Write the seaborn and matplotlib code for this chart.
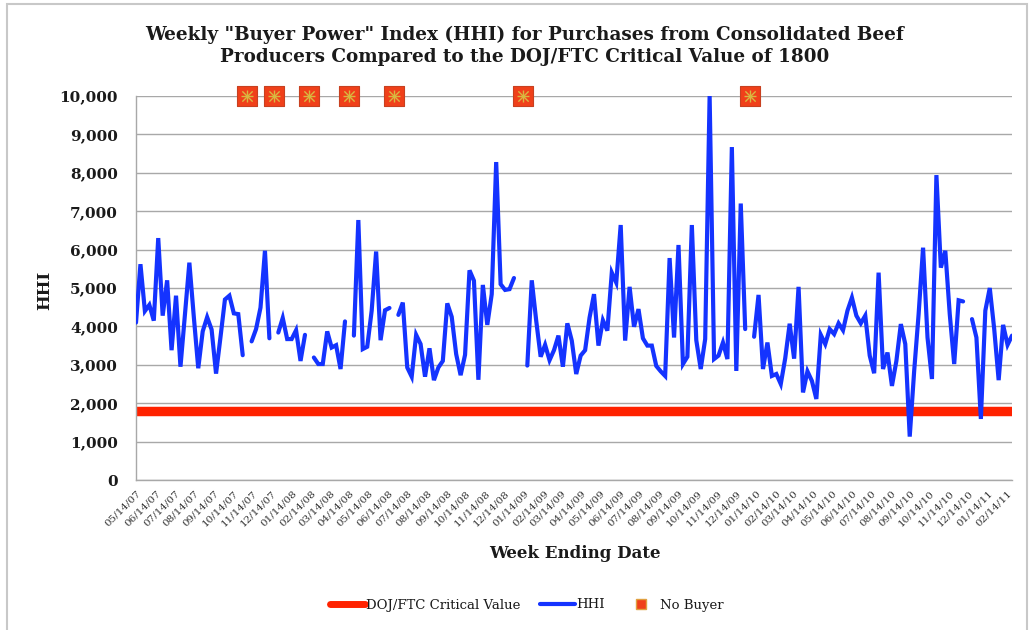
import numpy as np
import pandas as pd
import matplotlib
matplotlib.use("Agg")
import matplotlib.pyplot as plt
import matplotlib.dates as mdates
from matplotlib.lines import Line2D
from matplotlib.patches import Rectangle
import seaborn as sns

# ---------------- data ----------------
start_date = "2007-05-14"
nan = np.nan
hhi_values = [
    4100, 5620, 4400, 4560, 4150, 6300, 4280, 5200, 3380, 4800,
    2950, 4300, 5660, 4250, 2910, 3870, 4240, 3920, 2770, 3720,
    4700, 4800, 4340, 4320, 3250, nan, 3610, 3930, 4490, 5970,
    3690, nan, 3840, 4220, 3670, 3670, 3900, 3100, 3780, nan,
    3190, 3020, 3020, 3870, 3450, 3510, 2890, 4130, nan, 3760,
    6770, 3410, 3470, 4410, 5950, 3640, 4420, 4480, nan, 4300,
    4620, 2930, 2690, 3780, 3540, 2690, 3430, 2600, 2930, 3100,
    4600, 4250, 3280, 2730, 3260, 5460, 5190, 2610, 5080, 4040,
    4840, 8280, 5100, 4950, 4970, 5260, nan, nan, 2980, 5200,
    4150, 3210, 3520, 3120, 3380, 3760, 2950, 4080, 3630, 2760,
    3240, 3380, 4230, 4840, 3500, 4160, 3890, 5400, 5140, 6640,
    3630, 5030, 3990, 4450, 3690, 3500, 3500, 2970, 2830, 2710,
    5780, 3710, 6120, 3020, 3210, 6640, 3640, 2890, 3670, 10000,
    3150, 3240, 3580, 3150, 8670, 2840, 7200, 3930, nan, 3730,
    4820, 2890, 3580, 2710, 2760, 2500, 3170, 4070, 3160, 5030,
    2280, 2830, 2580, 2110, 3780, 3540, 3930, 3800, 4080, 3900,
    4410, 4750, 4280, 4080, 4280, 3240, 2780, 5400, 2890, 3320,
    2450, 3100, 4060, 3540, 1130, 2840, 4320, 6050, 3710, 2630,
    7940, 5530, 5970, 4320, 3020, 4680, 4650, nan, 4190, 3710,
    1590, 4410, 5000, 3930, 2600, 4040, 3520, 3760,
]
no_buyer_weeks = [25, 31, 39, 48, 58, 87, 138]
no_buyer_level = 10000
critical_value = 1800

title_text = ('Weekly "Buyer Power" Index (HHI) for Purchases from Consolidated Beef\n'
              'Producers Compared to the DOJ/FTC Critical Value of 1800')
x_label = "Week Ending Date"
y_label = "HHI"
legend_labels = ["DOJ/FTC Critical Value", "HHI", "No Buyer"]

# ---------------- frames ----------------
dates = pd.date_range(start_date, periods=len(hhi_values), freq="7D")
df = pd.DataFrame({"date": dates, "hhi": hhi_values})
df["seg"] = df["hhi"].isna().cumsum()
df_line = df.dropna()

crit_df = pd.DataFrame({"date": [dates[0], dates[-1]],
                        "value": [critical_value, critical_value]})
nb_df = pd.DataFrame({"date": dates[no_buyer_weeks],
                      "value": [no_buyer_level] * len(no_buyer_weeks)})

# ---------------- style ----------------
sns.set_theme(style="white")
plt.rcParams["font.family"] = ["DejaVu Serif", "DejaVu Sans"]
text_color = "#1a1a1a"
grid_color = "#a8a8a8"
red = "#ff2200"
blue = "#1433ff"

fig = plt.figure(figsize=(10.33, 6.30), dpi=100)
ax = fig.add_axes([136 / 1033, 150 / 630, 876 / 1033, 384 / 630])

# critical value line
sns.lineplot(data=crit_df, x="date", y="value", ax=ax, color=red,
             linewidth=6.8, solid_capstyle="butt", zorder=2)
# HHI line with gaps
sns.lineplot(data=df_line, x="date", y="hhi", units="seg", estimator=None,
             ax=ax, color=blue, linewidth=3.0, zorder=3,
             solid_joinstyle="miter")
# no buyer markers
sns.scatterplot(data=nb_df, x="date", y="value", ax=ax, marker="s", s=190,
                color="#f0401a", edgecolor="#c84020", linewidth=0.8,
                zorder=5, clip_on=False)
sns.scatterplot(data=nb_df, x="date", y="value", ax=ax, marker="x", s=55,
                color="#d8b840", linewidth=1.0, zorder=6, clip_on=False)
sns.scatterplot(data=nb_df, x="date", y="value", ax=ax, marker="+", s=70,
                color="#d8b840", linewidth=1.0, zorder=6, clip_on=False)

# axes setup
ax.set_xlim(dates[0], dates[-1])
ax.set_ylim(0, 10000)
ax.set_yticks(np.arange(0, 10001, 1000))
ax.yaxis.set_major_formatter(matplotlib.ticker.FuncFormatter(lambda v, p: f"{int(v):,}"))
ax.xaxis.set_major_locator(mdates.MonthLocator(bymonthday=14))
ax.xaxis.set_major_formatter(mdates.DateFormatter("%m/%d/%y"))
ax.grid(axis="y", color=grid_color, linewidth=1.0)
ax.grid(axis="x", visible=False)
ax.set_axisbelow(True)
for s in ["top", "right"]:
    ax.spines[s].set_visible(False)
for s in ["left", "bottom"]:
    ax.spines[s].set_color(grid_color)
    ax.spines[s].set_linewidth(1.0)
ax.tick_params(axis="y", which="major", direction="out", length=5, width=1,
               color=grid_color, labelsize=11, labelcolor=text_color, pad=8)
ax.tick_params(axis="x", which="major", direction="out", length=4, width=1,
               color=grid_color, labelsize=7.5, labelcolor="#333333", pad=2)
for lbl in ax.get_yticklabels():
    lbl.set_fontweight("bold")
for lbl in ax.get_xticklabels():
    lbl.set_rotation(45)
    lbl.set_ha("right")
    lbl.set_rotation_mode("anchor")
ax.set_xlabel("")
ax.set_ylabel("")

# texts
fig.text(525 / 1033, 1 - 46 / 630, title_text, ha="center", va="center",
         fontsize=13.2, fontweight="bold", color=text_color, linespacing=1.3)
fig.text(575 / 1033, 1 - 553 / 630, x_label, ha="center", va="center",
         fontsize=12, fontweight="bold", color=text_color)
fig.text(45 / 1033, 1 - 290 / 630, y_label, ha="center", va="center",
         rotation=90, fontsize=12, fontweight="bold", color=text_color)

# legend
handles = [
    Line2D([], [], color=red, linewidth=5, solid_capstyle="round"),
    Line2D([], [], color=blue, linewidth=3),
    Line2D([], [], linestyle="none", marker="s", markersize=7,
           markerfacecolor="#f0401a", markeredgecolor="#e0a040"),
]
fig.legend(handles, legend_labels, loc="center", bbox_to_anchor=(527 / 1033, 1 - 605 / 630),
           ncol=3, frameon=False, fontsize=9.5, handlelength=2.6, handletextpad=0.1,
           columnspacing=1.5, labelcolor=text_color)

# outer frame
fig.add_artist(Rectangle((7 / 1033, -0.02), 1020 / 1033, 1.02 - 4 / 630,
                         transform=fig.transFigure, fill=False,
                         edgecolor="#c8c8c8", linewidth=1.5))

fig.savefig("out.png", dpi=100)
